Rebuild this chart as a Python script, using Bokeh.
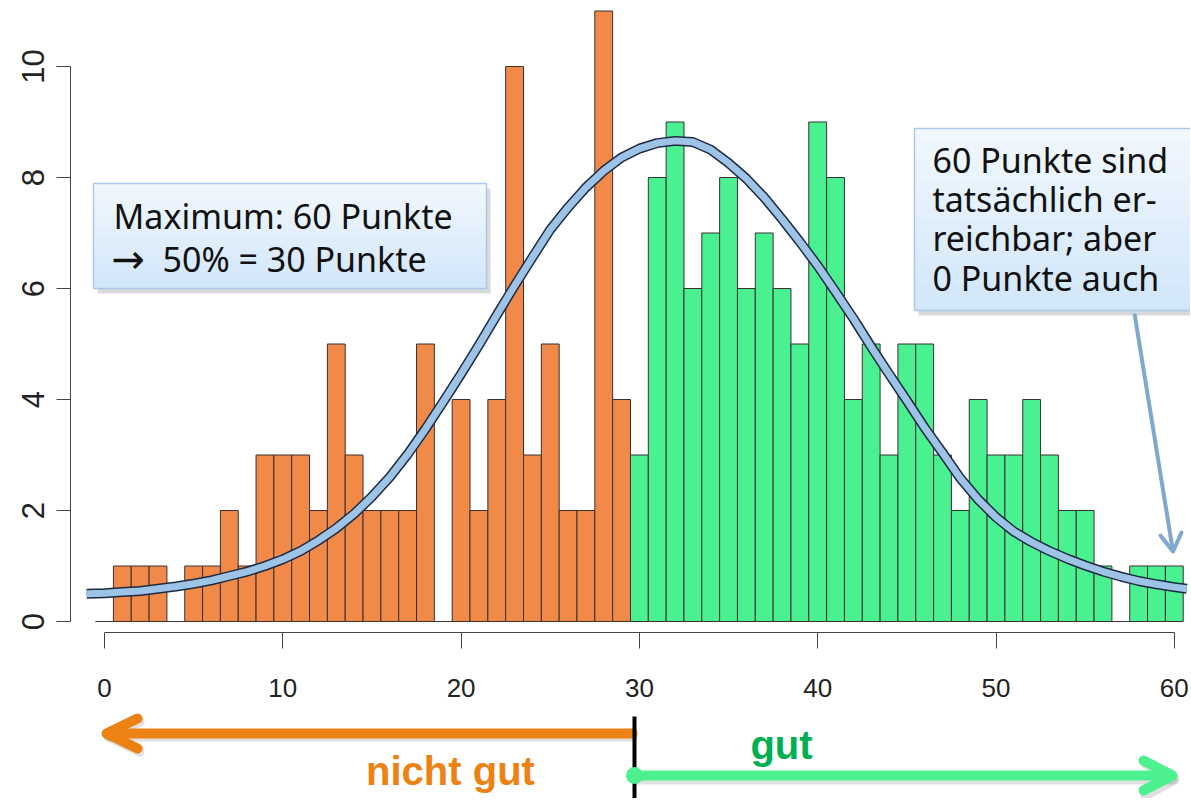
import numpy as np
from bokeh.plotting import figure
from bokeh.models import ColumnDataSource, Range1d, FixedTicker
from bokeh.layouts import column
from bokeh.embed import file_html
from bokeh.resources import INLINE
from bokeh.core.properties import value

# ---------------- data ----------------
SCORES = list(range(0, 61))
COUNTS = [0, 1, 1, 1, 0, 1, 1, 2, 1, 3, 3, 3, 2, 5, 3, 2, 2, 2, 5, 0,
          4, 2, 4, 10, 3, 5, 2, 2, 11, 4,
          3, 8, 9, 6, 7, 8, 6, 7, 6, 5, 9, 8, 4, 5, 3, 5, 5, 3, 2, 4,
          3, 3, 4, 3, 2, 2, 1, 0, 1, 1, 1]
PASS_MARK = 30

# curve
CURVE_X = [-1, 0, 1, 2, 3, 4, 5, 6, 7, 8, 9, 10, 11, 12, 13, 14, 15, 16, 17,
           18, 19, 20, 21, 22, 23, 24, 25, 26, 27, 28, 29, 30, 31, 32, 33, 34,
           35, 36, 37, 38, 39, 40, 41, 42, 43, 44, 45, 46, 47, 48, 49, 50, 51,
           52, 53, 54, 55, 56, 57, 58, 59, 60, 60.7]
CURVE_Y = [0.50, 0.51, 0.53, 0.55, 0.59, 0.63, 0.68, 0.74, 0.82, 0.90, 1.00,
           1.12, 1.27, 1.46, 1.68, 1.94, 2.25, 2.60, 3.01, 3.47, 3.96, 4.46,
           4.98, 5.52, 6.05, 6.56, 7.06, 7.46, 7.82, 8.12, 8.36, 8.52, 8.62,
           8.66, 8.64, 8.50, 8.26, 7.98, 7.64, 7.25, 6.84, 6.41, 5.94, 5.46,
           4.95, 4.46, 3.98, 3.49, 3.04, 2.58, 2.20, 1.88, 1.62, 1.43, 1.27,
           1.13, 1.01, 0.90, 0.81, 0.73, 0.67, 0.62, 0.59]

X_TICKS = [0, 10, 20, 30, 40, 50, 60]
Y_TICKS = [0, 2, 4, 6, 8, 10]

LEFT_BOX_LINE1 = "Maximum: 60 Punkte"
LEFT_BOX_ARROW = "\u2192"
LEFT_BOX_LINE2 = "50% = 30 Punkte"
RIGHT_BOX_LINES = ["60 Punkte sind", "tats\u00e4chlich er-", "reichbar; aber", "0 Punkte auch"]
LABEL_BAD = "nicht gut"
LABEL_GOOD = "gut"

ORANGE = "#F18A48"
GREEN = "#49F191"
ARROW_ORANGE = "#ED8214"
ARROW_GREEN = "#4CF08F"
TEXT_GREEN = "#00B050"

# page-pixel -> data helpers (for annotation placement only)
def X(px):
    return (px - 104.0) / 17.83

def Y(py):
    return (621.0 - py) / 55.5

W = 1190
FRAME_LEFT = 70
FRAME_BOTTOM = 632
BOTTOM_PANEL = 75
TOP_H = FRAME_BOTTOM + BOTTOM_PANEL     # 707
BAND_H = 91                              # 707 .. 798

p = figure(width=W, height=TOP_H, output_backend="svg", toolbar_location=None,
           x_range=Range1d(X(FRAME_LEFT), X(W)), y_range=Range1d(Y(FRAME_BOTTOM), Y(0)),
           min_border_left=FRAME_LEFT, min_border_right=0, min_border_top=0,
           min_border_bottom=BOTTOM_PANEL)
p.outline_line_color = None
p.xgrid.visible = False
p.ygrid.visible = False
p.background_fill_color = "white"

# axes (R-style)
for ax in (p.xaxis[0], p.yaxis[0]):
    ax.axis_line_color = "#444444"
    ax.major_tick_line_color = "#444444"
    ax.minor_tick_line_color = None
    ax.major_label_text_color = "#222222"
    ax.major_label_text_font = "Liberation Sans"
p.xaxis.ticker = FixedTicker(ticks=X_TICKS)
p.yaxis.ticker = FixedTicker(ticks=Y_TICKS)
p.xaxis.bounds = (X_TICKS[0], X_TICKS[-1])
p.yaxis.bounds = (Y_TICKS[0], Y_TICKS[-1])
p.xaxis.major_tick_out = 16
p.xaxis.major_tick_in = 0
p.xaxis.major_label_standoff = 30
p.xaxis.major_label_text_font_size = "26px"
p.yaxis.major_tick_out = 14
p.yaxis.major_tick_in = 0
p.yaxis.major_label_standoff = 13
p.yaxis.major_label_text_font_size = "31px"
p.yaxis.major_label_orientation = "vertical"

# histogram bars
colors = [ORANGE if s < PASS_MARK else GREEN for s in SCORES]
bars = ColumnDataSource(dict(
    left=[s - 0.5 for s in SCORES], right=[s + 0.5 for s in SCORES],
    top=COUNTS, color=colors))
p.quad(left="left", right="right", top="top", bottom=0, source=bars,
       fill_color="color", line_color="#3a3030", line_width=1)

# fitted curve (thick light blue with dark rim)
p.line(CURVE_X, CURVE_Y, line_color="#1d2a42", line_width=10, line_join="round")
p.line(CURVE_X, CURVE_Y, line_color="#9DC3E6", line_width=7, line_join="round")

# text boxes with gradient
def gradient_box(px_l, px_r, py_t, py_b, n=14):
    p.quad(left=[X(px_l + 4)], right=[X(px_r + 4)], top=[Y(py_t + 5)],
           bottom=[Y(py_b + 5)], fill_color="#000000", fill_alpha=0.15,
           line_color=None)
    c0 = np.array([0xF1, 0xF8, 0xFE])
    c1 = np.array([0xD3, 0xE7, 0xFA])
    h = (py_b - py_t) / n
    lefts, rights, tops, bots, cols = [], [], [], [], []
    for i in range(n):
        t = i / (n - 1)
        c = (c0 + (c1 - c0) * t).astype(int)
        lefts.append(X(px_l)); rights.append(X(px_r))
        tops.append(Y(py_t + i * h)); bots.append(Y(py_t + (i + 1) * h + 0.6))
        cols.append("#%02x%02x%02x" % tuple(c))
    p.quad(left=lefts, right=rights, top=tops, bottom=bots, fill_color=cols,
           line_color=None)
    p.quad(left=[X(px_l)], right=[X(px_r)], top=[Y(py_t)], bottom=[Y(py_b)],
           fill_color=None, line_color="#A9C8EA", line_width=1.5)

gradient_box(93, 486, 183, 288)
gradient_box(914, 1200, 128, 310)

p.text(x=[X(113), X(162)], y=[Y(215), Y(258)], text=[LEFT_BOX_LINE1, LEFT_BOX_LINE2],
       text_font=value("Noto Sans"), text_font_size="34px",
       text_baseline="alphabetic", text_align="left", text_color="#111111")
p.text(x=[X(111)], y=[Y(258)], text=[LEFT_BOX_ARROW],
       text_font=value("DejaVu Sans"), text_font_size="40px",
       text_baseline="alphabetic", text_align="left", text_color="#111111")
p.text(x=[X(932)] * 4, y=[Y(159), Y(198), Y(237.5), Y(277)], text=RIGHT_BOX_LINES,
       text_font=value("Noto Sans"), text_font_size="34px",
       text_baseline="alphabetic", text_align="left", text_color="#111111")

# callout arrow from right box
p.line([X(1134), X(1172.5)], [Y(313), Y(551)], line_color="#7FA8CD", line_width=4)
p.multi_line(xs=[[X(1160), X(1172.5), X(1181)]], ys=[[Y(535), Y(551), Y(532)]],
             line_color="#7FA8CD", line_width=4, line_join="round", line_cap="round")

# ---------------- bottom band: nicht gut / gut ----------------
q = figure(width=W, height=BAND_H, output_backend="svg", toolbar_location=None,
           x_range=p.x_range, y_range=Range1d(TOP_H + BAND_H, TOP_H),
           min_border_left=FRAME_LEFT, min_border_right=0, min_border_top=0,
           min_border_bottom=0, x_axis_type=None, y_axis_type=None)
q.outline_line_color = None
q.xgrid.visible = False
q.ygrid.visible = False

# shadows
q.multi_line(xs=[[X(108), X(632)], [X(139), X(108), X(139)],
                 [X(636), X(1172)], [X(1145), X(1174), X(1145)]],
             ys=[[736, 736], [721, 736, 751], [779, 779], [763, 779, 795]],
             line_color="#000000", line_alpha=0.12, line_width=10,
             line_cap="round", line_join="round")
# orange arrow (left)
q.multi_line(xs=[[X(108), X(632)], [X(137), X(106), X(137)]],
             ys=[[733, 733], [718, 733, 748]],
             line_color=ARROW_ORANGE, line_width=10, line_cap="round", line_join="round")
# green arrow (right)
q.multi_line(xs=[[X(634), X(1170)], [X(1143), X(1172), X(1143)]],
             ys=[[775, 775], [760, 775, 790]],
             line_color=ARROW_GREEN, line_width=10, line_cap="round", line_join="round")
# black divider at the pass mark
q.segment(x0=[X(634)], y0=[716], x1=[X(634)], y1=[800], line_color="black", line_width=4)
q.scatter(x=[X(634)], y=[775], size=17, fill_color=ARROW_GREEN, line_color=None)

q.text(x=[X(450)], y=[770], text=[LABEL_BAD], text_font=value("Liberation Sans"),
       text_font_style="bold", text_font_size="40px", text_align="center",
       text_baseline="alphabetic", text_color=ARROW_ORANGE)
q.text(x=[X(781)], y=[744], text=[LABEL_GOOD], text_font=value("Liberation Sans"),
       text_font_style="bold", text_font_size="40px", text_align="center",
       text_baseline="alphabetic", text_color=TEXT_GREEN)

layout = column(p, q, spacing=0)
open("out.html", "w").write(file_html(layout, INLINE))
